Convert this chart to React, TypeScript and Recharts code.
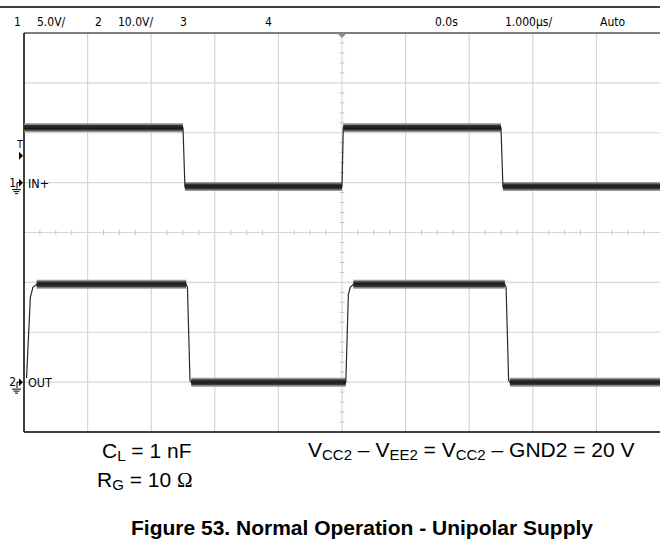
import { LineChart, Line, XAxis, YAxis, ReferenceLine, ReferenceDot } from 'recharts'

// time base: 1 µs/div, trigger at 0, 10 divisions across
const timeTicks = [-5, -4, -3, -2, -1, 0, 1, 2, 3, 4, 5]
// vertical: 8 divisions, 0 at the bottom edge
const divTicks = [0, 1, 2, 3, 4, 5, 6, 7, 8]

// channel 1 (IN+), 5 V/div, ground on division 5
const inGround = 5
const inScale = 5
const inTimes = [-5, -2.5, -2.47, 0, 0.02, 2.5, 2.53, 5]
const inVolts = [5.5, 5.5, -0.4, -0.4, 5.5, 5.5, -0.4, -0.4]

// channel 2 (OUT), 10 V/div, ground on division 1
const outGround = 1
const outScale = 10
const outTimes = [
  -4.96, -4.9, -4.86, -4.8, -2.45, -2.43, -2.39, -2.37, 0.06, 0.1, 0.13, 0.18, 2.56, 2.58, 2.62,
  2.64, 5,
]
const outVolts = [0.8, 17.0, 19.0, 19.6, 19.6, 19.0, 0.3, 0, 0, 17.6, 19.0, 19.6, 19.6, 19.0, 0.3, 0, 0]

// trigger level on channel 1
const trigVolts = 2.7

const W = 660
const H = 554
const scopeFont = "'DejaVu Sans Condensed', 'Liberation Sans Narrow', sans-serif"
const textFont = "'Liberation Sans', Arial, sans-serif"

const toTrace = (times: number[], volts: number[], ground: number, scale: number) =>
  times.map((t, i) => ({ t, v: ground + volts[i] / scale }))

// flat stretches only, split by nulls, so the noise band doesn't fatten the edges
const toPlateaus = (times: number[], volts: number[], ground: number, scale: number) => {
  const out: { t: number; v: number | null }[] = []
  for (let i = 0; i < times.length - 1; i++) {
    if (volts[i] !== volts[i + 1]) continue
    out.push({ t: times[i], v: ground + volts[i] / scale })
    out.push({ t: times[i + 1], v: ground + volts[i + 1] / scale })
    out.push({ t: (times[i + 1] + times[i + 2 < times.length ? i + 2 : i + 1]) / 2, v: null })
  }
  return out
}

const inTrace = toTrace(inTimes, inVolts, inGround, inScale)
const outTrace = toTrace(outTimes, outVolts, outGround, outScale)
const inFlat = toPlateaus(inTimes, inVolts, inGround, inScale)
const outFlat = toPlateaus(outTimes, outVolts, outGround, outScale)

const minorX: number[] = []
for (let t = -5; t <= 5.001; t += 0.25) if (Math.abs(t - Math.round(t)) > 0.01) minorX.push(t)
const minorY: number[] = []
for (let d = 0; d <= 8.001; d += 0.2) if (Math.abs(d - Math.round(d)) > 0.01) minorY.push(d)

const GroundMarker = ({ cx, cy, ch, name }: any) => (
  <g>
    <text x={16} y={cy + 4} textAnchor="end" fontSize={12} fontFamily={scopeFont} fill="#000">
      {ch}
    </text>
    <polyline points={`${19},${cy} ${17},${cy} ${17},${cy + 6}`} fill="none" stroke="#000" strokeWidth={1} />
    <polygon points={`${19},${cy - 4} ${23},${cy} ${19},${cy + 4}`} fill="#000" />
    <line x1={12} x2={21} y1={cy + 7} y2={cy + 7} stroke="#000" strokeWidth={1} />
    <line x1={13.5} x2={19.5} y1={cy + 9} y2={cy + 9} stroke="#000" strokeWidth={1} />
    <line x1={15} x2={18} y1={cy + 11} y2={cy + 11} stroke="#000" strokeWidth={1} />
    <text x={cx + 4} y={cy + 5} fontSize={12.5} fontFamily={scopeFont} fill="#000">
      {name}
    </text>
  </g>
)

const TrigMarker = ({ cy }: any) => (
  <g>
    <text x={20} y={cy - 8} textAnchor="middle" fontSize={10} fontFamily={scopeFont} fill="#000">
      T
    </text>
    <polygon points={`${19},${cy - 4} ${23},${cy} ${19},${cy + 4}`} fill="#000" />
  </g>
)

const TrigPos = ({ cx, cy }: any) => (
  <polygon points={`${cx - 5},${cy} ${cx + 5},${cy} ${cx},${cy + 5}`} fill="#8a8a8a" />
)

const band = (data: any[], key: string) => [
  <Line key={key + 'a'} data={data} dataKey="v" stroke="#9a9a9a" strokeWidth={9} dot={false} strokeLinecap="butt" isAnimationActive={false} />,
  <Line key={key + 'b'} data={data} dataKey="v" stroke="#3a3a3a" strokeWidth={6} dot={false} strokeLinecap="butt" isAnimationActive={false} />,
  <Line key={key + 'c'} data={data} dataKey="v" stroke="#111" strokeWidth={2.5} dot={false} strokeLinecap="butt" isAnimationActive={false} />,
]

export default function App() {
  return (
    <div style={{ position: 'absolute', left: 0, top: 0, width: W, height: H, background: '#fff' }}>
      <LineChart width={W} height={H} margin={{ top: 33, right: 0, left: 24, bottom: 122 }}>
        <XAxis dataKey="t" type="number" domain={[-5, 5]} ticks={timeTicks} hide allowDataOverflow />
        <YAxis type="number" domain={[0, 8]} ticks={divTicks} hide allowDataOverflow />

        {timeTicks.slice(1, -1).map(t => (
          <ReferenceLine key={'gx' + t} x={t} stroke="#d6d6d6" strokeWidth={1.2} />
        ))}
        {divTicks.slice(1, -1).map(d => (
          <ReferenceLine key={'gy' + d} y={d} stroke="#d6d6d6" strokeWidth={1.2} />
        ))}
        {minorX.map(t => (
          <ReferenceLine key={'mx' + t} segment={[{ x: t, y: 3.95 }, { x: t, y: 4.05 }]} stroke="#c4c4c4" />
        ))}
        {minorY.map(d => (
          <ReferenceLine key={'my' + d} segment={[{ x: -0.04, y: d }, { x: 0.04, y: d }]} stroke="#c4c4c4" />
        ))}

        <ReferenceLine x={-5} stroke="#000" strokeWidth={1.5} />
        <ReferenceLine y={8} stroke="#000" strokeWidth={1.2} />
        <ReferenceLine y={0} stroke="#000" strokeWidth={1.5} />

        {band(inFlat, 'in')}
        {band(outFlat, 'out')}
        <Line data={inTrace} dataKey="v" stroke="#2a2a2a" strokeWidth={1.2} dot={false} isAnimationActive={false} />
        <Line data={outTrace} dataKey="v" stroke="#2a2a2a" strokeWidth={1.2} dot={false} isAnimationActive={false} />

        <ReferenceDot x={0} y={8} r={0} ifOverflow="visible" shape={(p: any) => <TrigPos {...p} />} />
        <ReferenceDot x={-5} y={inGround + trigVolts / inScale} r={0} ifOverflow="visible" shape={(p: any) => <TrigMarker {...p} />} />
        <ReferenceDot x={-5} y={inGround} r={0} ifOverflow="visible" shape={(p: any) => <GroundMarker {...p} ch="1" name="IN+" />} />
        <ReferenceDot x={-5} y={outGround} r={0} ifOverflow="visible" shape={(p: any) => <GroundMarker {...p} ch="2" name="OUT" />} />
      </LineChart>

      <svg width={W} height={H} style={{ position: 'absolute', left: 0, top: 0, pointerEvents: 'none' }}>
        <line x1={0} x2={W} y1={7} y2={7} stroke="#000" strokeWidth={1.3} />
        <g fontFamily={scopeFont} fontSize={12} fill="#000">
          <text x={14} y={26}>1</text>
          <text x={37} y={26}>5.0V/</text>
          <text x={95} y={26}>2</text>
          <text x={118} y={26}>10.0V/</text>
          <text x={180} y={26}>3</text>
          <text x={265} y={26}>4</text>
          <text x={435} y={26}>0.0s</text>
          <text x={505} y={26}>1.000µs/</text>
          <text x={600} y={26}>Auto</text>
        </g>
        <g fontFamily={textFont} fontSize={21} fill="#000">
          <text x={102} y={458}>
            C<tspan fontSize={15} dy={3}>L</tspan>
            <tspan dy={-3}> = 1 nF</tspan>
          </text>
          <text x={97} y={487}>
            R<tspan fontSize={15} dy={3}>G</tspan>
            <tspan dy={-3}> = 10 </tspan>
            <tspan fontFamily="'Liberation Serif', serif">Ω</tspan>
          </text>
          <text x={308} y={457}>
            V<tspan fontSize={15} dy={3}>CC2</tspan>
            <tspan dy={-3}> – V</tspan>
            <tspan fontSize={15} dy={3}>EE2</tspan>
            <tspan dy={-3}> = V</tspan>
            <tspan fontSize={15} dy={3}>CC2</tspan>
            <tspan dy={-3}> – GND2 = 20 V</tspan>
          </text>
        </g>
        <text x={362} y={535} textAnchor="middle" fontFamily={textFont} fontSize={21} fontWeight="bold" fill="#000">
          Figure 53. Normal Operation - Unipolar Supply
        </text>
      </svg>
    </div>
  )
}
